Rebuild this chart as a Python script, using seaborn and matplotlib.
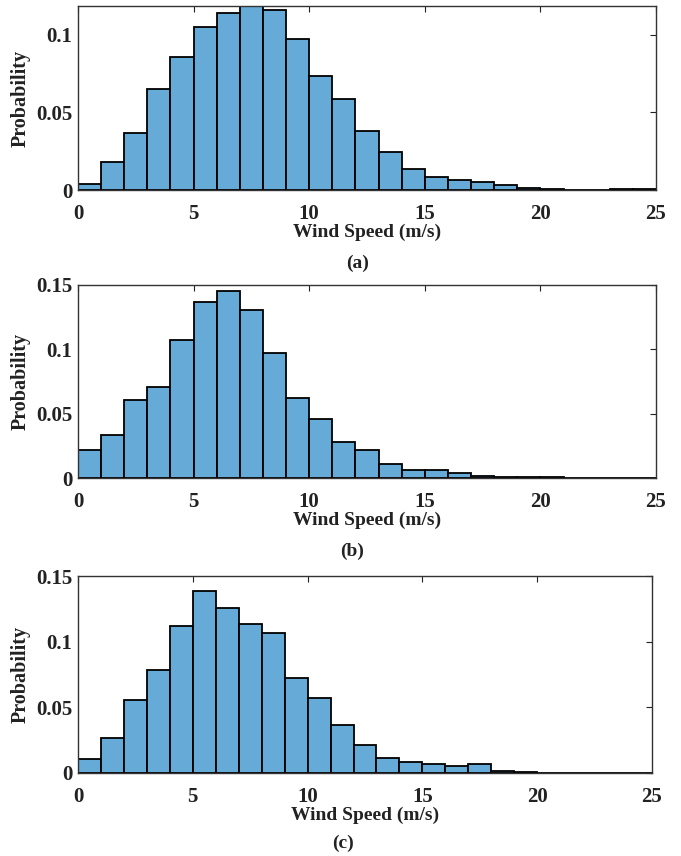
import numpy as np
import pandas as pd
import matplotlib
matplotlib.use("Agg")
import matplotlib.pyplot as plt
import seaborn as sns

# bin edges (m/s) and probability per 1 m/s bin
edges = np.arange(0, 26, 1)
centers = edges[:-1] + 0.5

prob_a = [0.004, 0.0178, 0.0367, 0.065, 0.0858, 0.105, 0.114, 0.1185, 0.1163, 0.0974,
          0.0734, 0.0588, 0.038, 0.0246, 0.0136, 0.0084, 0.0065, 0.0052, 0.0032, 0.0013,
          0.0005, 0.0003, 0.0002, 0.0008, 0.0008]
prob_b = [0.0219, 0.0338, 0.0608, 0.0704, 0.107, 0.1366, 0.1454, 0.1304, 0.0974, 0.0619,
          0.0456, 0.0276, 0.0214, 0.011, 0.0065, 0.0063, 0.0042, 0.0013, 0.0008, 0.0005,
          0.0005, 0.0001, 0.0001, 0.0001, 0.0001]
prob_c = [0.0107, 0.0269, 0.0553, 0.0787, 0.1117, 0.1383, 0.1259, 0.1135, 0.1063, 0.0721,
          0.0569, 0.0368, 0.0213, 0.0117, 0.0081, 0.0071, 0.0051, 0.0071, 0.0015, 0.0008,
          0.0001, 0.0001, 0.0001, 0.0001, 0.0001]

panels = [("(a)", prob_a, 0.1187, [0, 0.05, 0.1], ["0", "0.05", "0.1"]),
          ("(b)", prob_b, 0.15, [0, 0.05, 0.1, 0.15], ["0", "0.05", "0.1", "0.15"]),
          ("(c)", prob_c, 0.15, [0, 0.05, 0.1, 0.15], ["0", "0.05", "0.1", "0.15"])]

sns.set_style("white")
plt.rcParams['font.family'] = ['Liberation Serif', 'DejaVu Serif']
plt.rcParams['font.weight'] = 'bold'

W, H = 681, 856
fig = plt.figure(figsize=(W / 100, H / 100), dpi=100)

# axes boxes in pixels: left, top, right, bottom
boxes = [(78, 6, 656, 190), (78, 285, 656, 478), (78, 576, 652, 773)]
letter_pos = [(358, 263), (352, 551), (343, 843)]

bar_color = "#66AAD7"

for (tag, probs, ytop, yt, ytl), (l, t, r, b), (lx, ly) in zip(panels, boxes, letter_pos):
    ax = fig.add_axes([l / W, 1 - b / H, (r - l) / W, (b - t) / H])
    df = pd.DataFrame({"speed": centers, "prob": probs})
    sns.histplot(data=df, x="speed", weights="prob", binwidth=1, binrange=(0, 25),
                 stat="count", ax=ax, color=bar_color, alpha=1,
                 edgecolor="black", linewidth=1.3)
    ax.set_xlim(0, 25)
    ax.set_ylim(0, ytop)
    ax.set_xticks([0, 5, 10, 15, 20, 25])
    ax.set_xticklabels(["0", "5", "10", "15", "20", "25"])
    ax.set_yticks(yt)
    ax.set_yticklabels(ytl)
    ax.tick_params(direction="in", length=4, width=0.8, top=True, right=True,
                   labelsize=15, colors="#222222")
    ax.tick_params(axis="x", pad=10)
    ax.tick_params(axis="y", pad=4)
    for sp in ax.spines.values():
        sp.set_visible(True)
        sp.set_color("#333333")
        sp.set_linewidth(1.0)
    ax.set_xlabel("Wind Speed (m/s)", fontsize=14, fontweight="bold", labelpad=0, color="#222222")
    ax.set_ylabel("Probability", fontsize=14.5, fontweight="bold", color="#222222")
    ax.yaxis.set_label_coords(-0.082, 0.5)
    fig.text(lx / W, 1 - ly / H, tag, ha="center", va="center", fontsize=14,
             fontweight="bold", color="#222222")

fig.savefig("out.png", dpi=100)
